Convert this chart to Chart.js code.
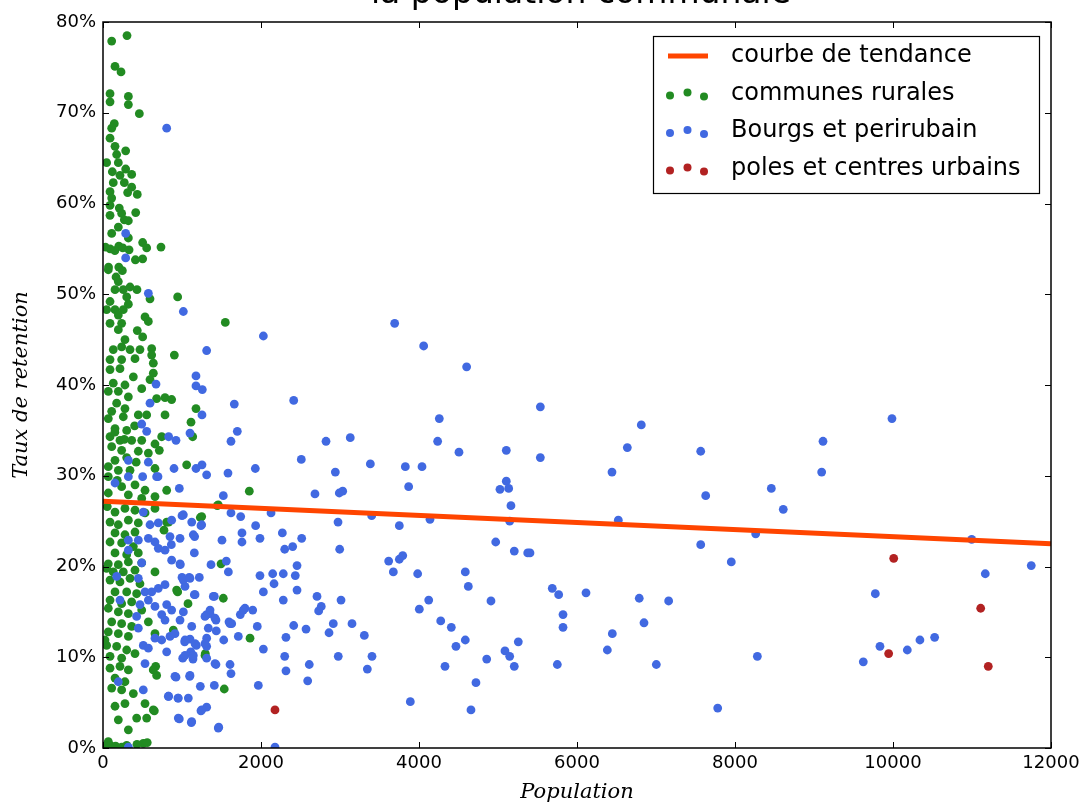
<!DOCTYPE html>
<html>
<head>
<meta charset="utf-8">
<script src="https://cdn.jsdelivr.net/npm/chart.js@4"></script>
<style>
  html, body { margin: 0; background: #fff; }
  canvas { display: block; }
</style>
</head>
<body>
<canvas id="chart" width="1085" height="805"></canvas>
<script>
const CHART_TITLE = "la population communale";
const X_TITLE = "Population";
const Y_TITLE = "Taux de retention";
const SERIES_NAMES = ["courbe de tendance", "communes rurales", "Bourgs et perirubain", "poles et centres urbains"];
const X_TICKS = [0, 2000, 4000, 6000, 8000, 10000, 12000];
const Y_TICKS = [0, 10, 20, 30, 40, 50, 60, 70, 80];

// trend line end points [population, rate %]
const tendance = [[0, 27.2], [12000, 22.5]];

const rurales = [
  [304,78.5],[110,77.9],[152,75.1],[228,74.5],[89,72.1],[89,71.2],[321,71.8],[321,70.9],[460,69.9],[143,68.8],
  [110,68.3],[89,67.2],[152,66.3],[287,65.8],[173,65.4],[46,64.5],[194,64.5],[118,63.5],[287,63.8],[363,63.2],
  [215,63.1],[130,62.3],[270,62.3],[363,61.8],[89,61.3],[312,61.2],[434,61.0],[110,60.6],[89,59.8],[206,59.5],
  [414,59.0],[89,58.7],[236,58.9],[270,58.2],[321,58.1],[194,57.4],[110,56.7],[321,56.2],[30,55.2],[90,55.0],
  [150,54.8],[200,55.3],[250,55.1],[330,54.9],[502,55.7],[553,55.1],[734,55.2],[502,53.9],[70,53.0],[200,53.0],
  [67,52.7],[245,52.6],[410,53.8],[165,51.9],[194,51.4],[152,50.5],[257,50.5],[342,50.8],[430,50.5],[945,49.7],
  [595,49.5],[300,49.7],[89,49.2],[321,48.9],[46,48.3],[152,48.3],[257,48.3],[194,47.7],[89,46.8],[236,46.8],
  [532,47.5],[574,47.0],[1548,46.9],[194,46.1],[434,46.0],[502,45.3],[278,45.0],[130,43.9],[236,44.2],[342,43.9],
  [468,43.9],[616,44.0],[903,43.3],[616,43.3],[89,42.8],[236,42.8],[405,42.9],[637,42.4],[89,41.7],[215,41.8],
  [384,40.9],[637,41.3],[595,40.6],[130,40.2],[278,40.0],[490,39.6],[67,39.3],[194,39.3],[321,38.7],[679,38.5],
  [785,38.6],[869,38.4],[173,38.0],[278,37.4],[110,37.1],[1177,37.4],[67,36.3],[257,36.5],[447,36.7],[553,36.7],
  [785,36.7],[1114,35.9],[152,35.2],[300,35.0],[89,34.3],[215,33.9],[363,33.9],[490,33.9],[658,33.5],[743,34.3],
  [1135,34.3],[110,33.2],[236,32.8],[447,32.7],[574,32.5],[713,32.8],[1059,31.2],[67,31.0],[194,30.6],[342,30.6],
  [658,30.8],[152,31.7],[67,29.9],[236,28.8],[405,29.0],[532,28.4],[806,28.4],[1852,28.3],[67,28.1],[321,27.9],
  [490,27.5],[658,27.7],[150,34.8],[270,34.0],[400,35.5],[180,29.5],[300,32.0],[420,31.5],
  [54,26.6],[152,26.0],[278,26.4],[405,26.2],[532,25.9],[658,26.4],[806,24.9],[1249,25.5],[1459,26.8],[1447,26.7],
  [89,24.9],[194,24.6],[321,25.1],[447,24.8],[152,23.7],[278,23.5],[405,23.8],[89,22.7],[236,22.6],[384,22.2],
  [152,21.5],[300,21.3],[447,21.5],[67,20.3],[194,20.2],[321,20.5],[490,20.4],[130,19.4],[257,19.4],[405,19.6],
  [89,18.5],[215,18.3],[342,18.7],[468,18.1],[658,19.4],[932,17.4],[1523,16.5],[1494,20.3],[152,17.2],[300,17.2],
  [426,17.0],[89,16.3],[236,15.9],[363,16.1],[67,15.4],[194,15.0],[321,14.8],[490,15.2],[574,13.9],[890,13.0],
  [658,12.6],[110,13.9],[236,13.7],[363,13.4],[67,12.8],[194,12.6],[321,12.3],[46,11.3],[173,11.2],[300,10.8],
  [405,10.4],[89,10.1],[236,9.9],[667,9.0],[679,8.0],[1291,10.2],[1861,12.1],[1535,6.5],[89,8.8],[215,9.0],
  [321,8.6],[152,7.7],[278,7.3],[110,6.6],[236,6.4],[384,6.0],[532,4.9],[637,4.2],[553,3.3],[152,4.6],
  [278,4.9],[194,3.1],[321,2.0],[426,3.3],[67,0.7],[236,0.1],[510,0.5],[650,4.1],[636,8.6],[1076,15.9],
  [945,17.2],[1232,25.4],[772,24.0],[831,24.9],[1295,10.4],[46,19.8],[25,11.9],
  [10,0.2],[90,0.3],[160,0.2],[300,0.3],[430,0.4],[560,0.6]
];

const bourgs = [
  [806,68.3],[287,56.7],[287,54.0],[574,50.1],[1017,48.1],[1312,43.8],[1177,41.0],[1177,39.9],[1257,39.5],[1662,37.9],
  [1700,34.9],[1620,33.8],[1253,36.7],[671,40.1],[595,38.0],[1101,34.7],[924,33.9],[831,34.3],[490,35.7],[553,34.9],
  [321,31.7],[574,31.5],[1928,30.8],[1582,30.3],[1312,30.1],[1253,31.2],[1177,30.8],[899,30.8],[696,29.9],[152,29.2],
  [321,29.9],[502,29.9],[679,29.9],[1523,27.8],[966,28.6],[1620,25.9],[1743,25.5],[2127,25.9],[1000,25.6],[1123,24.9],
  [1240,24.5],[1932,24.5],[1759,23.7],[1759,22.7],[1987,23.1],[1506,22.9],[1160,23.3],[975,23.1],[865,22.4],[1156,21.5],
  [1367,20.2],[1561,20.6],[1587,19.4],[1987,19.0],[2148,19.2],[2165,18.1],[2030,17.2],[1409,16.7],[1156,16.9],[1000,18.8],
  [1092,18.8],[1219,18.8],[978,20.2],[1354,14.8],[1312,14.7],[1430,14.1],[1595,13.9],[1629,13.7],[1738,14.7],[1797,15.4],
  [1895,15.2],[1953,13.4],[1713,12.3],[1528,11.9],[1434,12.9],[1333,13.2],[1312,12.1],[1312,11.2],[1181,11.3],[1101,12.0],
  [1034,11.7],[1110,10.6],[1009,9.9],[1139,9.8],[1312,9.9],[1430,9.2],[1608,9.2],[1620,8.2],[1966,6.9],[1409,6.9],
  [1232,6.8],[1097,7.9],[924,7.8],[831,5.7],[949,5.5],[1080,5.5],[1240,4.1],[1312,4.5],[966,3.2],[1118,2.8],
  [1465,2.3],[2030,10.9],[2177,0.1],[2030,45.4],
  [510,26.0],[595,24.6],[700,24.8],[869,25.1],[1017,25.7],[1249,24.6],[321,22.9],[447,22.9],[574,23.1],[658,22.7],
  [848,23.3],[1143,23.5],[321,21.8],[700,22.0],[785,21.8],[490,20.4],[869,20.7],[975,20.3],[173,18.9],[447,18.7],
  [1017,18.5],[1101,18.7],[1038,17.8],[532,17.2],[616,17.2],[700,17.6],[785,18.0],[1165,16.9],[1396,16.7],[215,16.3],
  [468,15.8],[574,16.3],[658,15.6],[806,15.8],[869,15.2],[1017,15.0],[1355,15.2],[426,14.5],[743,14.7],[785,14.1],
  [975,14.1],[1123,13.4],[1291,14.5],[1418,14.3],[1608,13.7],[1776,15.2],[447,13.2],[510,11.3],[658,12.1],[743,11.9],
  [848,12.3],[911,12.6],[1038,11.9],[1165,11.5],[1291,11.5],[806,10.6],[574,11.0],[1038,10.2],[1143,10.2],[1418,9.3],
  [532,9.3],[911,7.9],[1101,8.0],[510,6.4],[827,5.7],[953,5.5],[1249,4.2],[953,3.3],[1123,2.9],[1459,2.2],
  [194,7.3],[321,0.1],
  [2414,38.3],[3692,46.8],[4059,44.3],[4603,42.0],[4257,36.3],[4236,33.8],[4506,32.6],[5105,32.8],[5536,37.6],[5536,32.0],
  [6814,35.6],[6637,33.1],[6443,30.4],[7566,32.7],[7629,27.8],[8460,28.6],[8611,26.3],[6523,25.1],[2823,33.8],[3130,34.2],
  [2510,31.8],[2941,30.4],[3384,31.3],[3827,31.0],[4038,31.0],[2683,28.0],[2991,28.1],[3034,28.3],[3869,28.8],[5025,28.5],
  [5105,29.4],[5135,28.6],[5164,26.7],[2975,24.9],[3401,25.6],[3751,24.5],[4139,25.2],[5148,25.0],
  [2270,23.7],[2515,23.1],[2300,21.9],[2401,22.2],[2996,21.9],[4971,22.7],[5206,21.7],[5376,21.5],[2456,20.1],[2282,19.2],
  [2434,19.0],[3616,20.6],[3751,20.8],[3794,21.2],[3675,19.4],[3983,19.2],[4586,19.4],[4624,17.8],[2456,17.4],[2282,16.3],
  [2709,16.7],[2763,15.6],[2730,15.1],[3013,16.3],[4123,16.3],[4004,15.3],[4911,16.2],[4275,14.0],[4409,13.3],[2414,13.5],
  [2570,13.1],[2915,13.7],[2861,12.7],[3152,13.7],[3308,12.4],[2316,12.2],[4586,11.9],[4468,11.2],[5257,11.7],[5088,10.7],
  [5148,10.1],[5206,9.0],[4857,9.8],[4329,9.0],[2300,10.1],[2316,8.5],[2611,9.2],[2591,7.4],[2978,10.1],[3405,10.1],
  [3346,8.7],[4721,7.2],[3890,5.1],[4658,4.2],
  [7566,22.4],[7953,20.5],[8262,23.6],[5687,17.6],[5768,16.9],[6114,17.1],[5823,14.7],[5823,13.3],[6788,16.5],[7160,16.2],
  [6848,13.8],[6447,12.6],[6384,10.8],[5751,9.2],[7004,9.2],[8283,10.1],[7781,4.4],[5405,21.5],
  [9114,33.8],[9097,30.4],[9987,36.3],[10996,23.0],[11168,19.2],[11750,20.1],[9776,17.0],[9835,11.2],[9624,9.5],[10181,10.8],
  [10341,11.9],[10527,12.2]
];

const poles = [[2177,4.2],[10009,20.9],[11110,15.4],[9945,10.4],[11206,9.0]];

const COLORS = ["#FF4500", "#228B22", "#4169E1", "#B22222"];

function toPoints(arr) {
  return arr.map(p => ({ x: p[0], y: p[1] }));
}

function scatterSet(i, arr, order) {
  return {
    type: "scatter",
    label: SERIES_NAMES[i],
    data: toPoints(arr),
    backgroundColor: COLORS[i],
    borderWidth: 0,
    pointRadius: 4.4,
    clip: 0,
    order: order,
  };
}

// frame, inward ticks, title and legend like the matplotlib original
const decorPlugin = {
  id: "decor",
  afterDatasetsDraw(chart) {
    const ctx = chart.ctx;
    const a = chart.chartArea;
    const xs = chart.scales.x, ys = chart.scales.y;
    ctx.save();
    ctx.strokeStyle = "#000";
    ctx.lineWidth = 1;
    X_TICKS.forEach(v => {
      const px = Math.round(xs.getPixelForValue(v)) + 0.5;
      ctx.beginPath();
      ctx.moveTo(px, a.bottom); ctx.lineTo(px, a.bottom - 6);
      ctx.moveTo(px, a.top); ctx.lineTo(px, a.top + 6);
      ctx.stroke();
    });
    Y_TICKS.forEach(v => {
      const py = Math.round(ys.getPixelForValue(v)) + 0.5;
      ctx.beginPath();
      ctx.moveTo(a.left, py); ctx.lineTo(a.left + 6, py);
      ctx.moveTo(a.right, py); ctx.lineTo(a.right - 6, py);
      ctx.stroke();
    });
    ctx.lineWidth = 1.5;
    ctx.strokeRect(a.left, a.top, a.right - a.left, a.bottom - a.top);
    ctx.restore();
  },
  afterDraw(chart) {
    const ctx = chart.ctx;
    const a = chart.chartArea;
    ctx.save();
    // title, mostly cut off by the top edge
    ctx.fillStyle = "#000";
    ctx.font = "33px 'DejaVu Sans'";
    ctx.textAlign = "center";
    ctx.textBaseline = "alphabetic";
    ctx.fillText(CHART_TITLE, (a.left + a.right) / 2 + 4, 3);

    // legend box
    const bx = a.right - 398, by = a.top + 14, bw = 386, bh = 157;
    ctx.fillStyle = "#fff";
    ctx.fillRect(bx, by, bw, bh);
    ctx.strokeStyle = "#000";
    ctx.lineWidth = 1.2;
    ctx.strokeRect(bx + 0.5, by + 0.5, bw, bh);
    const rowY = [20, 57.5, 95, 132.5];
    const dotDx = [17, 34.5, 51];
    const dotDy = [2, -1, 3];
    ctx.font = "24px 'DejaVu Sans'";
    ctx.textAlign = "left";
    ctx.textBaseline = "middle";
    SERIES_NAMES.forEach((name, i) => {
      const y = by + rowY[i];
      if (i === 0) {
        ctx.strokeStyle = COLORS[0];
        ctx.lineWidth = 5;
        ctx.beginPath();
        ctx.moveTo(bx + 15, y); ctx.lineTo(bx + 55, y);
        ctx.stroke();
      } else {
        ctx.fillStyle = COLORS[i];
        dotDx.forEach((dx, k) => {
          ctx.beginPath();
          ctx.arc(bx + dx, y + dotDy[k], 4, 0, Math.PI * 2);
          ctx.fill();
        });
      }
      ctx.fillStyle = "#000";
      ctx.fillText(name, bx + 78, y);
    });
    ctx.restore();
  },
};

const ctx = document.getElementById("chart");
new Chart(ctx, {
  data: {
    datasets: [
      {
        type: "line",
        label: SERIES_NAMES[0],
        data: toPoints(tendance),
        borderColor: COLORS[0],
        borderWidth: 5,
        pointRadius: 0,
        fill: false,
        clip: 0,
        order: 0,
      },
      scatterSet(1, rurales, 3),
      scatterSet(2, bourgs, 2),
      scatterSet(3, poles, 1),
    ],
  },
  options: {
    responsive: false,
    animation: false,
    layout: { padding: { top: 22, right: 34, left: 0, bottom: 0 } },
    plugins: {
      legend: { display: false },
      title: { display: false },
      tooltip: { enabled: false },
    },
    scales: {
      x: {
        type: "linear",
        min: 0,
        max: 12000,
        afterFit: s => { s.height = 57; },
        afterBuildTicks: s => { s.ticks = X_TICKS.map(v => ({ value: v })); },
        grid: { display: false, drawTicks: false },
        border: { display: false },
        ticks: {
          color: "#000",
          padding: 5,
          maxRotation: 0,
          font: { family: "'DejaVu Sans'", size: 18 },
          callback: v => String(v),
        },
        title: {
          display: true,
          text: X_TITLE,
          color: "#000",
          padding: { top: 0, bottom: 0 },
          font: { family: "'DejaVu Serif'", size: 21, style: "italic" },
        },
      },
      y: {
        type: "linear",
        min: 0,
        max: 80,
        afterFit: s => { s.width = 103; },
        afterBuildTicks: s => { s.ticks = Y_TICKS.map(v => ({ value: v })); },
        grid: { display: false, drawTicks: false },
        border: { display: false },
        ticks: {
          color: "#000",
          padding: 7,
          font: { family: "'DejaVu Sans'", size: 18 },
          callback: v => v + "%",
        },
        title: {
          display: true,
          text: Y_TITLE,
          color: "#000",
          padding: { top: 9, bottom: 0 },
          font: { family: "'DejaVu Serif'", size: 21, style: "italic" },
        },
      },
    },
  },
  plugins: [decorPlugin],
});
</script>
</body>
</html>
